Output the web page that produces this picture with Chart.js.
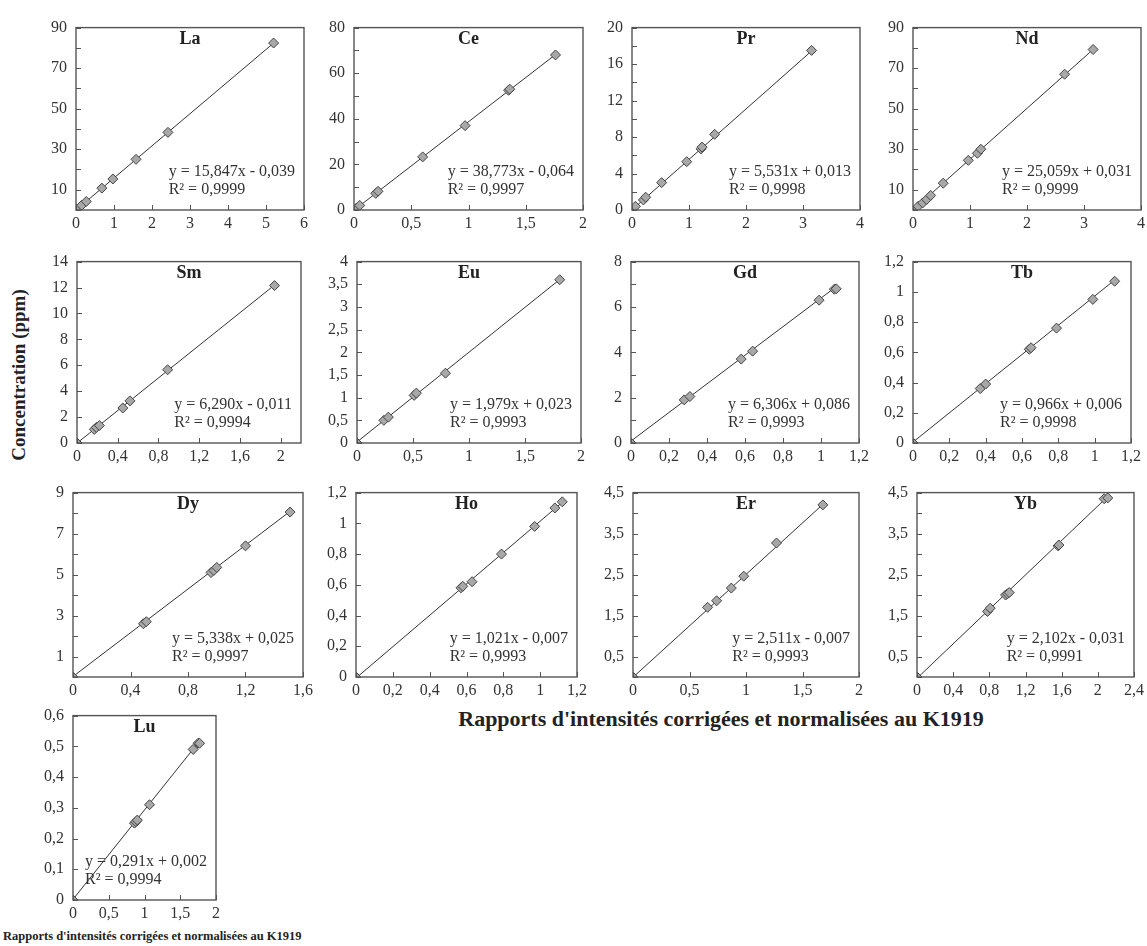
<!DOCTYPE html>
<html>
<head>
<meta charset="utf-8">
<script src="https://cdn.jsdelivr.net/npm/chart.js@4.4.1/dist/chart.umd.min.js"></script>
<style>
body{margin:0;background:#fff;width:1147px;height:946px;position:relative;overflow:hidden;font-family:'Liberation Serif','Times New Roman',serif;}
canvas{position:absolute;}
.ttl{position:absolute;font-weight:bold;color:#222;white-space:nowrap;}
</style>
</head>
<body>
<div class="ttl" style="left:19px;top:375px;font-size:19px;transform:translate(-50%,-50%) rotate(-90deg);">Concentration (ppm)</div>
<div class="ttl" style="left:721px;top:719px;font-size:22px;transform:translate(-50%,-50%);">Rapports d'intensités corrigées et normalisées au K1919</div>
<div class="ttl" style="left:3px;top:929px;font-size:12.5px;">Rapports d'intensités corrigées et normalisées au K1919</div>
<script>
// element names, one panel each
const elements = ['La','Ce','Pr','Nd','Sm','Eu','Gd','Tb','Dy','Ho','Er','Yb','Lu'];

// measured points (x = corrected ratio, y = ppm)
const laX = [0, 0.03, 0.15, 0.27, 0.68, 0.97, 1.58, 2.42, 5.2];
const laY = [0, 0.5, 2.3, 4.2, 10.8, 15.3, 25, 38.3, 82.4];
const ceX = [0, 0.02, 0.05, 0.19, 0.21, 0.6, 0.97, 1.35, 1.36, 1.76];
const ceY = [0, 0.8, 2, 7.3, 8.2, 23.3, 37, 52.5, 53, 68];
const prX = [0, 0.06, 0.2, 0.24, 0.52, 0.96, 1.21, 1.23, 1.45, 3.15];
const prY = [0, 0.4, 1.1, 1.4, 3.0, 5.3, 6.7, 6.9, 8.3, 17.5];
const ndX = [0, 0.09, 0.17, 0.24, 0.31, 0.53, 0.97, 1.13, 1.19, 2.66, 3.16];
const ndY = [0, 1.8, 3.5, 5.2, 7.2, 13.2, 24.5, 28, 30, 67, 79.2];
const smX = [0, 0.17, 0.19, 0.22, 0.45, 0.52, 0.89, 1.94];
const smY = [0, 1.05, 1.2, 1.35, 2.7, 3.25, 5.65, 12.15];
const euX = [0, 0.24, 0.28, 0.51, 0.53, 0.79, 1.81];
const euY = [0, 0.5, 0.57, 1.05, 1.1, 1.54, 3.6];
const gdX = [0, 0.28, 0.31, 0.58, 0.64, 0.99, 1.07, 1.08];
const gdY = [0, 1.9, 2.05, 3.7, 4.05, 6.3, 6.78, 6.8];
const tbX = [0, 0.37, 0.40, 0.64, 0.65, 0.79, 0.99, 1.11];
const tbY = [0, 0.36, 0.39, 0.62, 0.63, 0.76, 0.95, 1.07];
const dyX = [0, 0.49, 0.51, 0.96, 0.98, 1.0, 1.2, 1.51];
const dyY = [0, 2.6, 2.7, 5.1, 5.2, 5.35, 6.4, 8.05];
const hoX = [0, 0.57, 0.58, 0.63, 0.79, 0.97, 1.08, 1.12];
const hoY = [0, 0.58, 0.59, 0.62, 0.80, 0.98, 1.1, 1.14];
const erX = [0, 0.66, 0.74, 0.87, 0.98, 1.27, 1.68];
const erY = [0, 1.7, 1.86, 2.17, 2.46, 3.27, 4.2];
const ybX = [0, 0.78, 0.81, 0.98, 1.0, 1.02, 1.56, 1.57, 2.07, 2.11];
const ybY = [0, 1.6, 1.68, 2.0, 2.03, 2.06, 3.2, 3.22, 4.35, 4.37];
const luX = [0, 0.86, 0.88, 0.9, 1.07, 1.68, 1.75, 1.77];
const luY = [0, 0.25, 0.255, 0.26, 0.31, 0.49, 0.51, 0.51];

// regression results printed on each panel
const slopes = [15.847, 38.773, 5.531, 25.059, 6.290, 1.979, 6.306, 0.966, 5.338, 1.021, 2.511, 2.102, 0.291];
const intercepts = [-0.039, -0.064, 0.013, 0.031, -0.011, 0.023, 0.086, 0.006, 0.025, -0.007, -0.007, -0.031, 0.002];
const r2 = ['0,9999','0,9997','0,9998','0,9999','0,9994','0,9993','0,9993','0,9998','0,9997','0,9993','0,9993','0,9991','0,9994'];

// axis ranges / tick steps
const xMax = [6, 2, 4, 4, 2.2, 2, 1.2, 1.2, 1.6, 1.2, 2, 2.4, 2];
const xStep = [1, 0.5, 1, 1, 0.4, 0.5, 0.2, 0.2, 0.4, 0.2, 0.5, 0.4, 0.5];
const yMax = [90, 80, 20, 90, 14, 4, 8, 1.2, 9, 1.2, 4.5, 4.5, 0.6];
const yStep = [10, 10, 2, 10, 2, 0.5, 1, 0.2, 1, 0.2, 0.5, 0.5, 0.1];
const yLabelMode = ['odd','even','even','odd','all','all','even','all','odd','all','odd','odd','all'];

const pointsX = [laX, ceX, prX, ndX, smX, euX, gdX, tbX, dyX, hoX, erX, ybX, luX];
const pointsY = [laY, ceY, prY, ndY, smY, euY, gdY, tbY, dyY, hoY, erY, ybY, luY];

// plot area of every panel on the page: left, top, right, bottom
const plotRects = [
  [76,18,304,210],[354,18,583,210],[632,18,860,210],[913,18,1141,210],
  [77,252,301,443],[357,252,581,443],[631,252,859,443],[913,252,1131,443],
  [73,483,303,677],[356,483,577,677],[633,483,859,677],[917,483,1134,677],
  [73,706,216,900]
];

const fontFam = "'Liberation Serif','Times New Roman',serif";
const fmt = v => String(Math.round(v*1000)/1000).replace('.', ',');
const fmt3 = v => v.toFixed(3).replace('.', ',');

const padL = 4, padR = 14, padT = 9, padB = 2, yW = 40, xH = 24;

const framePlugin = {
  id: 'frame',
  afterDraw(chart, args, opts) {
    const {ctx, chartArea: a, scales} = chart;
    ctx.save();
    ctx.strokeStyle = '#555';
    ctx.lineWidth = 1;
    scales.y.ticks.forEach(t => {
      const py = Math.round(scales.y.getPixelForValue(t.value)) + 0.5;
      ctx.beginPath(); ctx.moveTo(a.left, py); ctx.lineTo(a.left + 5, py); ctx.stroke();
    });
    scales.x.ticks.forEach(t => {
      const px = Math.round(scales.x.getPixelForValue(t.value)) + 0.5;
      ctx.beginPath(); ctx.moveTo(px, a.bottom); ctx.lineTo(px, a.bottom - 5); ctx.stroke();
    });
    ctx.lineWidth = 1.4;
    ctx.strokeRect(a.left, a.top, a.right - a.left, a.bottom - a.top);
    ctx.fillStyle = '#222';
    ctx.font = 'bold 18px ' + fontFam;
    ctx.textAlign = 'center'; ctx.textBaseline = 'middle';
    ctx.fillText(opts.name, (a.left + a.right) / 2, a.top + 12);
    ctx.fillStyle = '#333';
    ctx.font = '16px ' + fontFam;
    ctx.textAlign = 'left';
    const w = ctx.measureText(opts.eq).width;
    const ex = a.right - 9 - w;
    ctx.fillText(opts.eq, ex, a.bottom - 38);
    ctx.fillText(opts.r2, ex, a.bottom - 20);
    ctx.restore();
  }
};

elements.forEach((name, i) => {
  const [L, T, R, B] = plotRects[i];
  const cv = document.createElement('canvas');
  const w = (R - L) + yW + padL + padR, h = (B - T) + xH + padT + padB;
  cv.width = w; cv.height = h;
  cv.style.left = (L - yW - padL) + 'px';
  cv.style.top = (T - padT) + 'px';
  cv.style.width = w + 'px'; cv.style.height = h + 'px';
  document.body.appendChild(cv);

  const pts = pointsX[i].map((x, k) => ({x: x, y: pointsY[i][k]}));
  const a = slopes[i], b = intercepts[i];
  const xEnd = pointsX[i][pointsX[i].length - 1];
  const fit = [{x: 0, y: b}, {x: xEnd, y: a * xEnd + b}];
  const eq = 'y = ' + fmt3(a) + 'x ' + (b < 0 ? '- ' : '+ ') + fmt3(Math.abs(b));
  const mode = yLabelMode[i], ys = yStep[i];

  new Chart(cv, {
    type: 'scatter',
    data: {
      datasets: [
        {data: pts, pointStyle: 'rectRot', pointRadius: 5, backgroundColor: '#a8a8a8', borderColor: '#444', borderWidth: 1},
        {type: 'line', data: fit, borderColor: '#333', borderWidth: 1, pointRadius: 0, fill: false}
      ]
    },
    options: {
      responsive: false, animation: false, devicePixelRatio: 1,
      layout: {padding: {left: padL, right: padR, top: padT, bottom: padB}},
      plugins: {legend: {display: false}, tooltip: {enabled: false},
        frame: {name: name, eq: eq, r2: 'R² = ' + r2[i]}},
      scales: {
        x: {type: 'linear', min: 0, max: xMax[i],
          grid: {display: false, drawTicks: false}, border: {display: false},
          afterFit: s => { s.height = xH; },
          ticks: {stepSize: xStep[i], includeBounds: false, autoSkip: false, maxRotation: 0, padding: 4,
            color: '#333', font: {family: fontFam, size: 16}, callback: v => fmt(v)}},
        y: {type: 'linear', min: 0, max: yMax[i],
          grid: {display: false, drawTicks: false}, border: {display: false},
          afterFit: s => { s.width = yW; },
          ticks: {stepSize: ys, includeBounds: false, autoSkip: false, padding: 9,
            color: '#333', font: {family: fontFam, size: 16},
            callback: v => {
              const k = Math.round(v / ys);
              if (mode === 'odd' && k % 2 !== 1) return '';
              if (mode === 'even' && k % 2 !== 0) return '';
              return fmt(v);
            }}}
      }
    },
    plugins: [framePlugin]
  });
});
</script>
</body>
</html>
